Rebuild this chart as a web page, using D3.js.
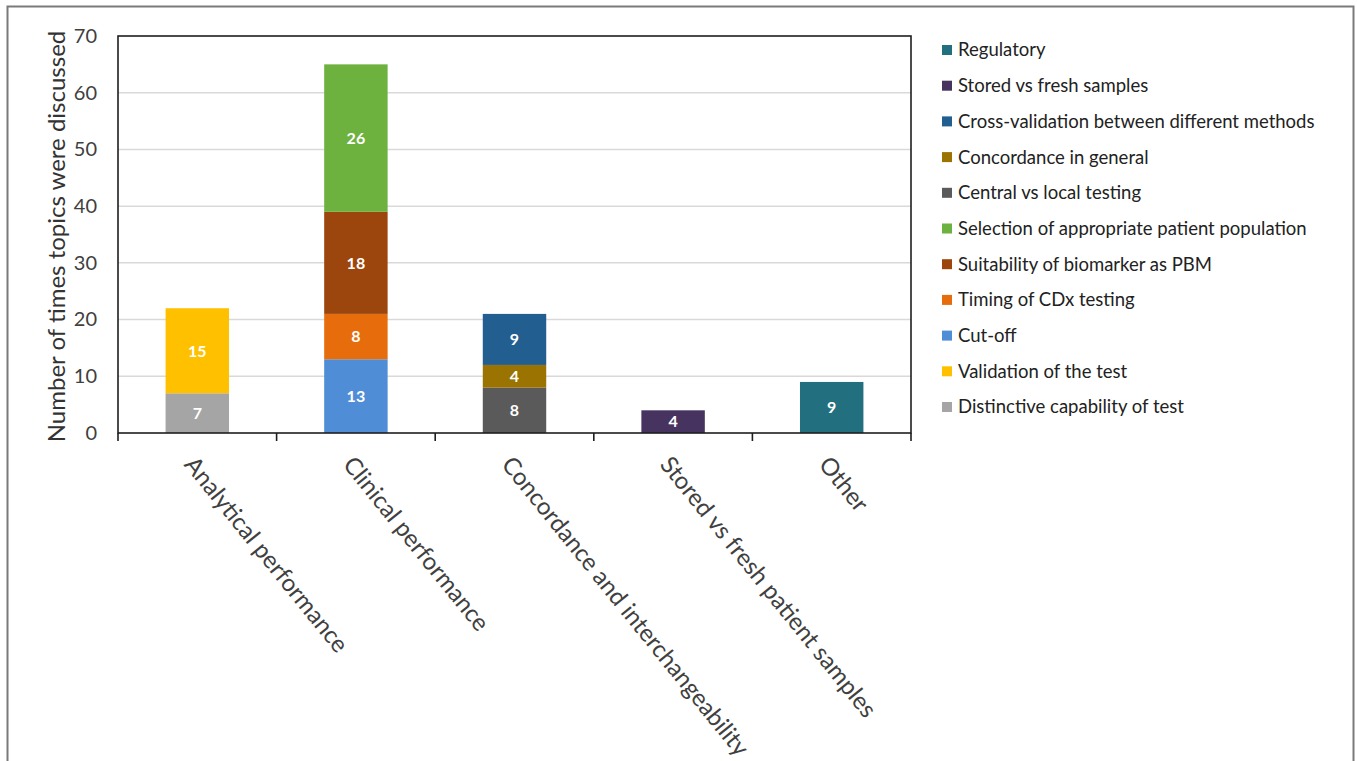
<!DOCTYPE html>
<html>
<head>
<meta charset="utf-8">
<script src="https://cdn.jsdelivr.net/npm/d3@7"></script>
<style>
  body { margin: 0; background: #fff; }
  svg { display: block; font-family: Lato, "Open Sans", sans-serif; }
</style>
</head>
<body>
<svg id="chart" width="1357" height="761"></svg>
<script>
const categories = ["Analytical performance", "Clinical performance", "Concordance and interchangeability",
  "Stored vs fresh patient samples", "Other"];

// bottom to top of the stacks
const seriesNames = ["Distinctive capability of test", "Validation of the test", "Cut-off",
  "Timing of CDx testing", "Suitability of biomarker as PBM", "Selection of appropriate patient population",
  "Central vs local testing", "Concordance in general", "Cross-validation between different methods",
  "Stored vs fresh samples", "Regulatory"];
const seriesColors = ["#a5a5a5", "#ffc000", "#4f8ed6", "#e76c0b", "#9c460d", "#6db23f",
  "#5a5a5a", "#9a7300", "#235e91", "#46335f", "#22707f"];

const distinctive = [7, 0, 0, 0, 0];
const validation  = [15, 0, 0, 0, 0];
const cutoff      = [0, 13, 0, 0, 0];
const timing      = [0, 8, 0, 0, 0];
const suitability = [0, 18, 0, 0, 0];
const selection   = [0, 26, 0, 0, 0];
const centralLocal = [0, 0, 8, 0, 0];
const concordGen  = [0, 0, 4, 0, 0];
const crossVal    = [0, 0, 9, 0, 0];
const storedFresh = [0, 0, 0, 4, 0];
const regulatory  = [0, 0, 0, 0, 9];
const seriesValues = [distinctive, validation, cutoff, timing, suitability, selection,
  centralLocal, concordGen, crossVal, storedFresh, regulatory];

const yTicks = [0, 10, 20, 30, 40, 50, 60, 70];

const svg = d3.select("#chart");
const plotL = 118, plotR = 911, plotT = 36, plotB = 433;

// outer frame
svg.append("rect").attr("x", 7.5).attr("y", 6.5).attr("width", 1346).attr("height", 800)
  .attr("fill", "none").attr("stroke", "#7a7a7a").attr("stroke-width", 2);

const x = d3.scaleBand().domain(categories).range([plotL, plotR]).paddingInner(0.6).paddingOuter(0.3);
const y = d3.scaleLinear().domain([0, 70]).range([plotB, plotT]);

// gridlines
svg.append("g").selectAll("line").data(yTicks.slice(1, -1)).join("line")
  .attr("x1", plotL).attr("x2", plotR)
  .attr("y1", d => y(d)).attr("y2", d => y(d))
  .attr("stroke", "#d9d9d9").attr("stroke-width", 1.5);

// stacked data
const rows = categories.map((c, i) => {
  const r = { cat: c };
  seriesNames.forEach((s, k) => r[s] = seriesValues[k][i]);
  return r;
});
const stacked = d3.stack().keys(seriesNames)(rows);

const bars = svg.append("g");
stacked.forEach((layer, k) => {
  const g = bars.append("g").attr("fill", seriesColors[k]);
  const segs = layer.filter(d => d[1] - d[0] > 0);
  g.selectAll("rect").data(segs).join("rect")
    .attr("x", d => x(d.data.cat))
    .attr("width", x.bandwidth())
    .attr("y", d => y(d[1]))
    .attr("height", d => y(d[0]) - y(d[1]));
  g.selectAll("text").data(segs).join("text")
    .attr("x", d => x(d.data.cat) + x.bandwidth() / 2)
    .attr("y", d => (y(d[0]) + y(d[1])) / 2)
    .attr("dy", "0.36em")
    .attr("text-anchor", "middle")
    .attr("fill", "#fff")
    .attr("font-size", 16)
    .attr("font-weight", "bold")
    .text(d => d[1] - d[0]);
});

// plot box
svg.append("rect").attr("x", plotL).attr("y", plotT).attr("width", plotR - plotL).attr("height", plotB - plotT)
  .attr("fill", "none").attr("stroke", "#1e1e1e").attr("stroke-width", 1.6);

// y axis labels
const yAxis = d3.axisLeft(y).tickValues(yTicks).tickSize(0).tickPadding(21);
const yg = svg.append("g").attr("transform", `translate(${plotL},0)`).call(yAxis);
yg.select(".domain").remove();
yg.selectAll("text").attr("font-size", 20).attr("fill", "#404040").attr("font-family", "Lato, sans-serif");

svg.append("text")
  .attr("transform", `translate(65,${(plotT + plotB) / 2 + 2}) rotate(-90)`)
  .attr("text-anchor", "middle")
  .attr("font-size", 24)
  .attr("fill", "#333")
  .text("Number of times topics were discussed");

// x tick marks at category boundaries
const step = x.step();
const bounds = categories.map(c => x(c) + x.bandwidth() / 2 - step / 2).concat([plotR]);
svg.append("g").selectAll("line").data(bounds).join("line")
  .attr("x1", d => d).attr("x2", d => d)
  .attr("y1", plotB).attr("y2", plotB + 8)
  .attr("stroke", "#1e1e1e").attr("stroke-width", 1.6);

// rotated category labels
svg.append("g").selectAll("text").data(categories).join("text")
  .attr("transform", c => `translate(${x(c) + x.bandwidth() / 2 - 14},${plotB + 32}) rotate(51)`)
  .attr("text-anchor", "start")
  .attr("font-size", 24)
  .attr("fill", "#404040")
  .text(c => c);

// legend (top entry = top of stack)
const legendNames = seriesNames.slice().reverse();
const legendColors = seriesColors.slice().reverse();
const lg = svg.append("g").selectAll("g").data(legendNames).join("g")
  .attr("transform", (d, i) => `translate(942,${50 + i * 35.7})`);
lg.append("rect").attr("x", 0).attr("y", -5).attr("width", 10).attr("height", 10)
  .attr("fill", (d, i) => legendColors[i]);
lg.append("text").attr("x", 16).attr("dy", "0.35em")
  .attr("font-size", 18.5).attr("fill", "#222")
  .text(d => d);
</script>
</body>
</html>
